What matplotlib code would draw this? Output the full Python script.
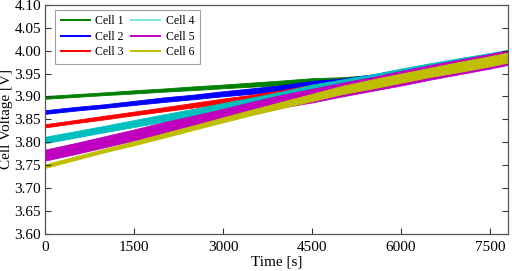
import matplotlib
matplotlib.use("Agg")
import matplotlib.pyplot as plt
from matplotlib.ticker import FormatStrFormatter, MultipleLocator

time_s = [0, 500, 1000, 1500, 2000, 2500, 3000, 3500, 4000, 4500, 5000, 5500, 6000, 6500, 7000, 7500, 7800]

# Centre voltage of each (noisy) cell trace
cell1 = [3.898, 3.902, 3.906, 3.910, 3.914, 3.918, 3.922, 3.926, 3.930, 3.934, 3.936, 3.940, 3.948, 3.958, 3.968, 3.979, 3.986]
cell2 = [3.866, 3.873, 3.879, 3.886, 3.893, 3.899, 3.906, 3.912, 3.918, 3.926, 3.930, 3.938, 3.949, 3.960, 3.971, 3.982, 3.989]
cell3 = [3.836, 3.845, 3.854, 3.863, 3.872, 3.881, 3.890, 3.898, 3.907, 3.918, 3.926, 3.934, 3.945, 3.957, 3.968, 3.979, 3.986]
cell4 = [3.805, 3.817, 3.829, 3.841, 3.853, 3.865, 3.877, 3.889, 3.901, 3.915, 3.926, 3.937, 3.949, 3.961, 3.972, 3.983, 3.990]
cell5 = [3.772, 3.786, 3.801, 3.816, 3.831, 3.845, 3.860, 3.875, 3.890, 3.902, 3.915, 3.927, 3.940, 3.953, 3.965, 3.977, 3.985]
cell6 = [3.748, 3.765, 3.782, 3.798, 3.815, 3.832, 3.849, 3.866, 3.882, 3.898, 3.914, 3.927, 3.940, 3.953, 3.965, 3.977, 3.985]

# Half-width of the noise band of each trace
noise1 = [0.003, 0.003, 0.003, 0.0035, 0.0035, 0.004, 0.004, 0.0045, 0.005, 0.006, 0.006, 0.007, 0.007, 0.008, 0.008, 0.008, 0.008]
noise2 = [0.004, 0.004, 0.004, 0.0045, 0.005, 0.005, 0.0055, 0.006, 0.007, 0.008, 0.009, 0.010, 0.010, 0.010, 0.011, 0.011, 0.011]
noise3 = [0.0035, 0.0035, 0.004, 0.004, 0.0045, 0.005, 0.0055, 0.006, 0.007, 0.008, 0.009, 0.009, 0.010, 0.010, 0.010, 0.010, 0.010]
noise4 = [0.007, 0.007, 0.007, 0.0075, 0.008, 0.008, 0.009, 0.009, 0.010, 0.011, 0.011, 0.011, 0.012, 0.012, 0.012, 0.012, 0.012]
noise5 = [0.012, 0.012, 0.012, 0.012, 0.013, 0.013, 0.013, 0.014, 0.014, 0.015, 0.015, 0.015, 0.016, 0.016, 0.016, 0.016, 0.016]
noise6 = [0.004, 0.004, 0.004, 0.0045, 0.005, 0.005, 0.0055, 0.006, 0.007, 0.008, 0.009, 0.010, 0.010, 0.010, 0.011, 0.011, 0.011]

labels = ["Cell 1", "Cell 2", "Cell 3", "Cell 4", "Cell 5", "Cell 6"]
colors = ["#008000", "#0000ff", "#ff0000", "#00bfbf", "#bf00bf", "#bfbf00"]
legend_colors = ["#008000", "#0000ff", "#ff0000", "#7fe5e5", "#bf00bf", "#bfbf00"]

x_ticks = [0, 1500, 3000, 4500, 6000, 7500]

plt.rcParams["font.family"] = ["Liberation Serif", "DejaVu Serif"]

fig = plt.figure(figsize=(5.12, 2.71), dpi=100)
ax = fig.add_axes([0.088, 0.137, 0.904, 0.845])

centres = [cell1, cell2, cell3, cell4, cell5, cell6]
noises = [noise1, noise2, noise3, noise4, noise5, noise6]
for c, n, col in zip(centres, noises, colors):
    lo = [a - b for a, b in zip(c, n)]
    hi = [a + b for a, b in zip(c, n)]
    ax.fill_between(time_s, lo, hi, color=col, linewidth=0.6, edgecolor=col)

handles = []
for lab, col in zip(labels, legend_colors):
    h, = ax.plot([], [], color=col, lw=1.4, label=lab)
    handles.append(h)

ax.set_xlim(0, 7800)
ax.set_ylim(3.60, 4.10)
ax.set_xticks(x_ticks)
ax.yaxis.set_major_locator(MultipleLocator(0.05))
ax.yaxis.set_major_formatter(FormatStrFormatter("%.2f"))
ax.tick_params(direction="in", length=4, width=0.8, colors="#333333",
               labelcolor="black", labelsize=11, right=True, top=False)
ax.tick_params(axis="x", pad=5)
ax.tick_params(axis="y", pad=3)
for s in ax.spines.values():
    s.set_color("#555555")
    s.set_linewidth(0.9)

ax.set_xlabel("Time [s]", fontsize=11, labelpad=1.5)
ax.set_ylabel("Cell Voltage [V]", fontsize=11, labelpad=1)

leg = ax.legend(handles=handles, ncol=2, loc="upper left", fontsize=8.5,
                frameon=True, fancybox=False, handlelength=2.5,
                columnspacing=0.6, handletextpad=0.45, labelspacing=0.3,
                borderpad=0.45, bbox_to_anchor=(0.022, 0.978),
                borderaxespad=0.0)
leg.get_frame().set_edgecolor("#888888")
leg.get_frame().set_linewidth(0.8)

fig.savefig("out.png", dpi=100)
